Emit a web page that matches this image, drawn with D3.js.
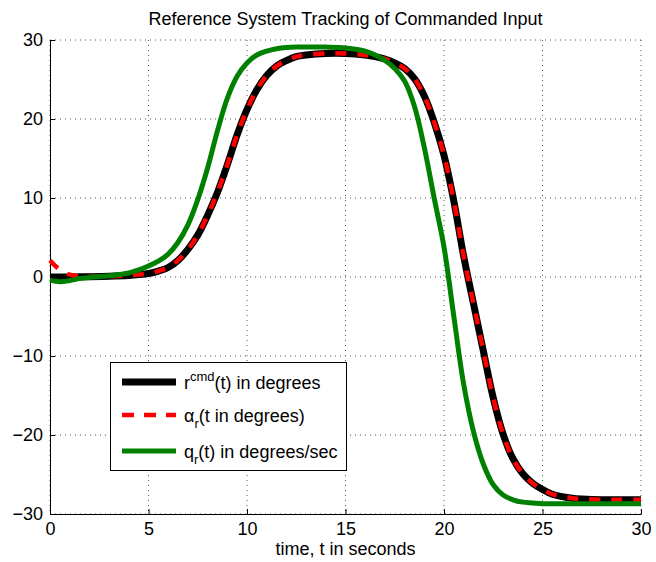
<!DOCTYPE html>
<html>
<head>
<meta charset="utf-8">
<script src="https://cdn.jsdelivr.net/npm/d3@7"></script>
<style>
  body { margin: 0; background: #fff; }
  text { font-family: "Liberation Sans", Arial, Helvetica, sans-serif; }
</style>
</head>
<body>
<div id="chart"></div>
<script>
// Data
const time = [0, 0.5, 1, 1.5, 2, 3, 4, 4.5, 5, 5.5, 6, 6.5, 7, 7.5, 8, 8.5, 9, 9.5, 10, 10.5,
  11, 11.5, 12, 12.5, 13, 14, 15, 16, 16.5, 17, 17.5, 18, 18.5, 19, 19.5, 20, 20.5, 21, 21.5, 22,
  22.5, 23, 23.5, 24, 24.5, 25, 25.5, 26, 26.5, 27, 28, 29, 30];

const rCmd = [0, 0, 0, 0.02, 0.04, 0.1, 0.2, 0.3, 0.45, 0.75, 1.2, 2.1, 3.5, 5.3, 7.8, 10.7, 14.2, 18.0, 21.2, 23.7,
  25.5, 26.7, 27.4, 27.9, 28.1, 28.3, 28.3, 28.1, 27.9, 27.6, 27.1, 26.4, 25.1, 22.9, 19.6, 15.4, 9.6, 2.6, -3.4, -9.4,
  -15.3, -19.9, -23.0, -24.9, -26.1, -26.9, -27.5, -27.8, -28.0, -28.1, -28.2, -28.2, -28.2];

const alphaR = [2.1, 0.9, 0.3, 0.08, 0.04, 0.1, 0.2, 0.3, 0.45, 0.75, 1.2, 2.1, 3.5, 5.3, 7.8, 10.7, 14.2, 18.0, 21.2, 23.7,
  25.5, 26.7, 27.4, 27.9, 28.1, 28.3, 28.3, 28.1, 27.9, 27.6, 27.1, 26.4, 25.1, 22.9, 19.6, 15.4, 9.6, 2.6, -3.4, -9.4,
  -15.3, -19.9, -23.0, -24.9, -26.1, -26.9, -27.5, -27.8, -28.0, -28.1, -28.2, -28.2, -28.2];

const qR = [-0.4, -0.6, -0.45, -0.2, -0.05, 0.15, 0.5, 0.9, 1.4, 2.0, 2.9, 4.4, 6.6, 9.8, 13.8, 18.5, 22.6, 25.4, 27.1, 28.1,
  28.6, 28.9, 29.05, 29.1, 29.1, 29.1, 29.0, 28.6, 28.1, 27.4, 26.4, 24.8, 21.6, 16.4, 10.0, 3.8, -5.0, -13.6, -19.6, -23.7,
  -26.3, -27.6, -28.2, -28.5, -28.6, -28.7, -28.7, -28.7, -28.7, -28.7, -28.7, -28.7, -28.7];

const xTicks = [0, 5, 10, 15, 20, 25, 30];
const yTicks = [-30, -20, -10, 0, 10, 20, 30];

const titleText = "Reference System Tracking of Commanded Input";
const xLabelText = "time, t in seconds";

// Layout
const width = 656, height = 562;
const plotLeft = 50, plotRight = 641, plotTop = 40, plotBottom = 514;
const fontSize = 18;

const svg = d3.select("#chart").append("svg")
  .attr("width", width)
  .attr("height", height);

svg.append("rect").attr("width", width).attr("height", height).attr("fill", "#fff");

const x = d3.scaleLinear().domain([0, 30]).range([plotLeft, plotRight]);
const y = d3.scaleLinear().domain([-30, 30]).range([plotBottom, plotTop]);

// grid (dotted)
const grid = svg.append("g");
grid.selectAll(".gx").data(xTicks).join("line")
  .attr("x1", d => x(d)).attr("x2", d => x(d))
  .attr("y1", plotTop).attr("y2", plotBottom)
  .attr("stroke", "#555").attr("stroke-width", 1)
  .attr("stroke-dasharray", "1,4");
grid.selectAll(".gy").data(yTicks).join("line")
  .attr("y1", d => y(d)).attr("y2", d => y(d))
  .attr("x1", plotLeft).attr("x2", plotRight)
  .attr("stroke", "#555").attr("stroke-width", 1)
  .attr("stroke-dasharray", "1,4");

// axes
const xAxis = d3.axisBottom(x).tickValues(xTicks).tickSizeInner(-5).tickSizeOuter(0).tickPadding(8);
const yAxis = d3.axisLeft(y).tickValues(yTicks).tickSizeInner(-5).tickSizeOuter(0).tickPadding(7)
  .tickFormat(d => d < 0 ? "\u2212" + Math.abs(d) : d);

const gx = svg.append("g").attr("transform", `translate(0,${plotBottom})`).call(xAxis);
const gy = svg.append("g").attr("transform", `translate(${plotLeft},0)`).call(yAxis);
[gx, gy].forEach(g => {
  g.select(".domain").attr("stroke", "#000");
  g.selectAll(".tick line").attr("stroke", "#000");
  g.selectAll(".tick text").attr("font-size", fontSize).attr("fill", "#000")
    .style("font-family", '"Liberation Sans", Arial, sans-serif');
});

// lines
const line = d3.line()
  .x((d, i) => x(time[i]))
  .y(d => y(d))
  .curve(d3.curveCatmullRom.alpha(0.5));

const plot = svg.append("g");
plot.append("path").datum(rCmd).attr("d", line)
  .attr("fill", "none").attr("stroke", "#000").attr("stroke-width", 7);
plot.append("path").datum(alphaR).attr("d", line)
  .attr("fill", "none").attr("stroke", "#ff0000").attr("stroke-width", 4.5)
  .attr("stroke-dasharray", "11,11");
plot.append("path").datum(qR).attr("d", line)
  .attr("fill", "none").attr("stroke", "#008000").attr("stroke-width", 5);

// title and label
svg.append("text").attr("x", (plotLeft + plotRight) / 2).attr("y", 25)
  .attr("text-anchor", "middle").attr("font-size", fontSize).text(titleText);
svg.append("text").attr("x", (plotLeft + plotRight) / 2).attr("y", 555)
  .attr("text-anchor", "middle").attr("font-size", fontSize).text(xLabelText);

// legend
const legend = svg.append("g");
legend.append("rect").attr("x", 110.5).attr("y", 362.5).attr("width", 236).attr("height", 108)
  .attr("fill", "#fff").attr("stroke", "#000").attr("stroke-width", 1);

const legendItems = [
  { color: "#000", width: 7, dash: null, base: "r", mark: "cmd", sup: true, rest: "(t) in degrees" },
  { color: "#ff0000", width: 4.5, dash: "12,10", base: "\u03b1", mark: "r", sup: false, rest: "(t in degrees)" },
  { color: "#008000", width: 5, dash: null, base: "q", mark: "r", sup: false, rest: "(t) in degrees/sec" }
];
const rowY = [382, 415, 451];

legendItems.forEach((it, i) => {
  const ly = rowY[i];
  legend.append("line").attr("x1", 122).attr("x2", 176).attr("y1", ly).attr("y2", ly)
    .attr("stroke", it.color).attr("stroke-width", it.width)
    .attr("stroke-dasharray", it.dash);
  const t = legend.append("text").attr("x", 184).attr("y", ly + 7).attr("font-size", fontSize);
  t.append("tspan").text(it.base);
  t.append("tspan").attr("font-size", 13).attr("dy", it.sup ? -8 : 6).text(it.mark);
  t.append("tspan").attr("dy", it.sup ? 8 : -6).text(it.rest);
});
</script>
</body>
</html>
